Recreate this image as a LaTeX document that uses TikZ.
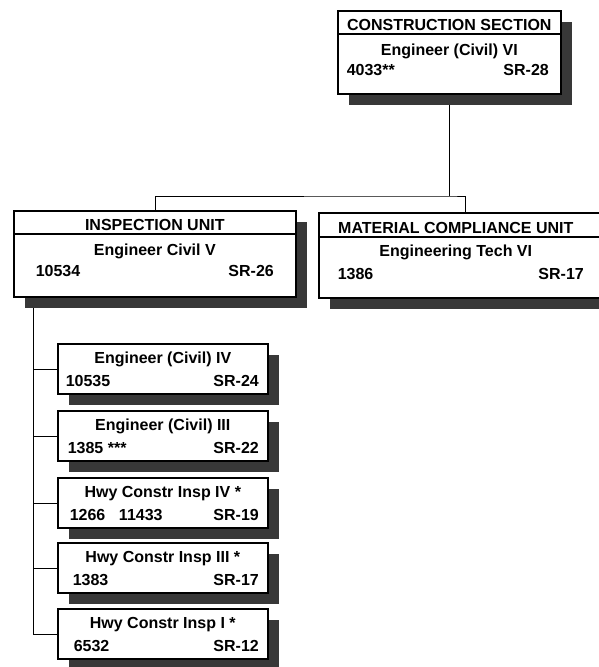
\documentclass[tikz,border=0pt]{standalone}
\usepackage{fontspec}
\setmainfont{Liberation Sans}
\usetikzlibrary{shadows,backgrounds}

\begin{document}
\begin{tikzpicture}[x=1pt, y=-1pt, line width=1.6pt,
    every node/.style={font=\bfseries\fontsize{16}{18}\selectfont},
    unitbox/.style={draw, fill=white, anchor=north west, inner sep=0pt,
        drop shadow={shadow xshift=11pt, shadow yshift=-11pt, fill=black!78, opacity=1}},
    lbl/.style={inner sep=0pt}]
    \useasboundingbox (0,0) rectangle (598,667);
    % section and units
    \node[unitbox, minimum width=223pt, minimum height=83pt] (csec) at (337,10) {};
    \draw ([yshift=-24pt]csec.north west) -- ([yshift=-24pt]csec.north east);
    \node[lbl, anchor=base]       (csec-name) at ([yshift=-20pt]csec.north) {CONSTRUCTION SECTION};
    \node[lbl, anchor=base]       (csec-job)  at ([yshift=-45pt]csec.north) {Engineer (Civil) VI};
    \node[lbl, anchor=base west]  (csec-pos)  at ([xshift=9pt, yshift=-65pt]csec.north west) {4033**};
    \node[lbl, anchor=base east]  (csec-sr)   at ([xshift=-12pt, yshift=-65pt]csec.north east) {SR-28};

    \node[unitbox, minimum width=282pt, minimum height=86pt] (insp) at (13,210) {};
    \draw ([yshift=-24pt]insp.north west) -- ([yshift=-24pt]insp.north east);
    \node[lbl, anchor=base]       (insp-name) at ([yshift=-20pt]insp.north) {INSPECTION UNIT};
    \node[lbl, anchor=base]       (insp-job)  at ([yshift=-45pt]insp.north) {Engineer Civil V};
    \node[lbl, anchor=base west]  (insp-pos)  at ([xshift=22pt, yshift=-66pt]insp.north west) {10534};
    \node[lbl, anchor=base east]  (insp-sr)   at ([xshift=-22pt, yshift=-66pt]insp.north east) {SR-26};

    \node[unitbox, minimum width=290pt, minimum height=85pt] (matl) at (318,212) {};
    \draw ([yshift=-25pt]matl.north west) -- ([yshift=-25pt]matl.north east);
    \node[lbl, anchor=base]       (matl-name) at ([xshift=-8pt, yshift=-21pt]matl.north) {MATERIAL COMPLIANCE UNIT};
    \node[lbl, anchor=base]       (matl-job)  at ([xshift=-8pt, yshift=-44pt]matl.north) {Engineering Tech VI};
    \node[lbl, anchor=base west]  (matl-pos)  at ([xshift=19pt, yshift=-67pt]matl.north west) {1386};
    \node[lbl, anchor=base east]  (matl-sr)   at ([xshift=-25pt, yshift=-67pt]matl.north east) {SR-17};

    % positions under the inspection unit
    \foreach \name/\top/\job/\pos/\dx/\sr in {
        civ4/343/Engineer (Civil) IV/10535/8/SR-24,
        civ3/410/Engineer (Civil) III/1385 ***/10/SR-22,
        hwy4/477/Hwy Constr Insp IV */1266\hspace{0.85em}11433/12/SR-19,
        hwy3/542/Hwy Constr Insp III */1383/15/SR-17,
        hwy1/608/Hwy Constr Insp I */6532/16/SR-12} {
        \node[unitbox, minimum width=210pt, minimum height=50pt] (\name) at (57,\top) {};
        \node[lbl, anchor=base]      (\name-job) at ([yshift=-20pt]\name.north) {\job};
        \node[lbl, anchor=base west] (\name-pos) at ([xshift=\dx pt, yshift=-43pt]\name.north west) {\pos};
        \node[lbl, anchor=base east] (\name-sr)  at ([xshift=-9pt, yshift=-43pt]\name.north east) {\sr};
    }

    % connectors
    \begin{pgfonlayer}{background}
        \coordinate (bus) at (csec.south |- 0,196);
        \coordinate (spine) at ([xshift=20pt]insp.south west);
        \draw (csec.south) -- (bus);
        \draw (insp.north) |- (bus) -| ([xshift=1pt]matl.north);
        \foreach \c in {civ4, civ3, hwy4, hwy3, hwy1} {
            \draw (spine) |- (\c.west);
        }
    \end{pgfonlayer}
\end{tikzpicture}
\end{document}
